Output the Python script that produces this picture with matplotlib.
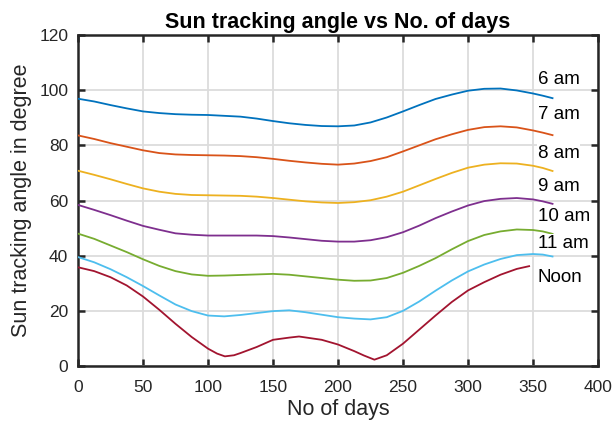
import matplotlib
matplotlib.use('Agg')
import matplotlib.pyplot as plt

plt.rcParams['font.family'] = ['Liberation Sans', 'DejaVu Sans']

# Days of the year (read points)
days = [0, 12.5, 25, 37.5, 50, 62.5, 75, 87.5, 100, 112.5, 125, 137.5, 150, 162.5, 175, 187.5,
        200, 212.5, 225, 237.5, 250, 262.5, 275, 287.5, 300, 312.5, 325, 337.5, 350, 357.5, 365]

# Sun tracking angle (degree) for each hour
angle_6am = [96.9, 95.9, 94.6, 93.4, 92.3, 91.7, 91.3, 91.1, 91.0, 90.7, 90.4, 89.7, 88.8, 88.0, 87.4, 87.0,
             86.9, 87.2, 88.3, 90.1, 92.3, 94.6, 96.8, 98.4, 99.8, 100.5, 100.6, 99.9, 98.8, 98.0, 97.1]
angle_7am = [83.6, 82.3, 80.8, 79.5, 78.2, 77.2, 76.7, 76.5, 76.4, 76.3, 76.1, 75.7, 75.1, 74.4, 73.8, 73.3,
             73.0, 73.4, 74.3, 75.7, 77.8, 80.0, 82.2, 84.0, 85.6, 86.6, 86.9, 86.5, 85.4, 84.6, 83.7]
angle_8am = [70.8, 69.3, 67.7, 66.0, 64.4, 63.2, 62.4, 62.0, 61.9, 61.8, 61.7, 61.4, 60.9, 60.3, 59.7, 59.3,
             59.1, 59.4, 60.1, 61.4, 63.2, 65.5, 67.8, 70.0, 71.9, 73.0, 73.5, 73.4, 72.6, 71.8, 70.7]
angle_9am = [58.4, 56.6, 54.7, 52.7, 50.8, 49.4, 48.1, 47.6, 47.3, 47.3, 47.3, 47.3, 47.1, 46.6, 46.0, 45.4,
             45.1, 45.1, 45.6, 46.7, 48.5, 50.9, 53.6, 56.0, 58.2, 59.8, 60.6, 60.9, 60.4, 59.7, 58.8]
angle_10am = [48.0, 46.1, 43.7, 41.3, 38.7, 36.3, 34.4, 33.2, 32.7, 32.8, 33.0, 33.2, 33.4, 33.1, 32.5, 31.9,
              31.3, 30.9, 31.0, 31.9, 33.8, 36.3, 39.1, 42.3, 45.3, 47.5, 48.8, 49.5, 49.3, 48.8, 47.9]
angle_11am = [39.5, 37.6, 35.1, 32.2, 29.0, 25.6, 22.3, 19.9, 18.3, 18.0, 18.5, 19.2, 19.9, 20.2, 19.5, 18.6,
              17.7, 17.2, 16.9, 17.7, 20.0, 23.4, 27.3, 31.0, 34.3, 36.8, 38.8, 40.2, 40.6, 40.4, 39.7]

days_noon = [0, 12.5, 25, 37.5, 50, 62.5, 75, 87.5, 100, 107, 113, 120, 125, 137.5, 150, 162.5,
             170, 187.5, 200, 212.5, 220, 228, 237.5, 250, 262.5, 275, 287.5, 300, 312.5, 325, 337.5, 347]
angle_noon = [35.8, 34.4, 32.2, 29.2, 25.2, 20.4, 15.3, 10.5, 6.3, 4.5, 3.5, 3.9, 4.7, 6.9, 9.5, 10.3,
              10.7, 9.5, 7.8, 5.4, 3.8, 2.3, 3.9, 8.1, 13.2, 18.3, 23.2, 27.4, 30.4, 33.1, 35.2, 36.2]

hour_labels = ['6 am', '7 am', '8 am', '9 am', '10 am', '11 am', 'Noon']
label_y = [103.8, 91.1, 77.0, 65.1, 54.2, 44.4, 32.1]

colors = ['#0072BD', '#D95319', '#EDB120', '#7E2F8E', '#77AC30', '#4DBEEE', '#A2142F']

series = [
    (days, angle_6am),
    (days, angle_7am),
    (days, angle_8am),
    (days, angle_9am),
    (days, angle_10am),
    (days, angle_11am),
    (days_noon, angle_noon),
]

fig = plt.figure(figsize=(6.15, 4.3), dpi=100)
ax = fig.add_axes([0.1268, 0.1488, 0.8456, 0.7698])

for (x, y), c in zip(series, colors):
    ax.plot(x, y, color=c, linewidth=1.3, zorder=3, solid_joinstyle='round')

# hour labels at the right end of each curve
for txt, yy in zip(hour_labels, label_y):
    ax.text(353.5, yy, txt, fontsize=13.5, va='center', ha='left', color='black',
            bbox=dict(facecolor='white', edgecolor='none', pad=0.5), zorder=4)

ax.set_xlim(0, 400)
ax.set_ylim(0, 120)
ax.set_xticks(range(0, 401, 50))
ax.set_yticks(range(0, 121, 20))
ax.grid(True, color='#dcdcdc', linewidth=1.3)
ax.set_axisbelow(True)

for s in ax.spines.values():
    s.set_linewidth(1.8)
    s.set_color('#262626')
ax.tick_params(direction='in', length=5, width=1.8, color='#262626',
               top=True, right=True, labelsize=12.5, labelcolor='#262626')
ax.tick_params(axis='x', pad=10)
ax.tick_params(axis='y', pad=7)

ax.set_xlabel('No of days', fontsize=15.5, color='#262626', labelpad=3)
ax.set_ylabel('Sun tracking angle in degree', fontsize=15.5, color='#262626', labelpad=5)
ax.set_title('Sun tracking angle vs No. of days', fontsize=15.5, fontweight='bold', pad=5)

fig.savefig('out.png', dpi=100)
